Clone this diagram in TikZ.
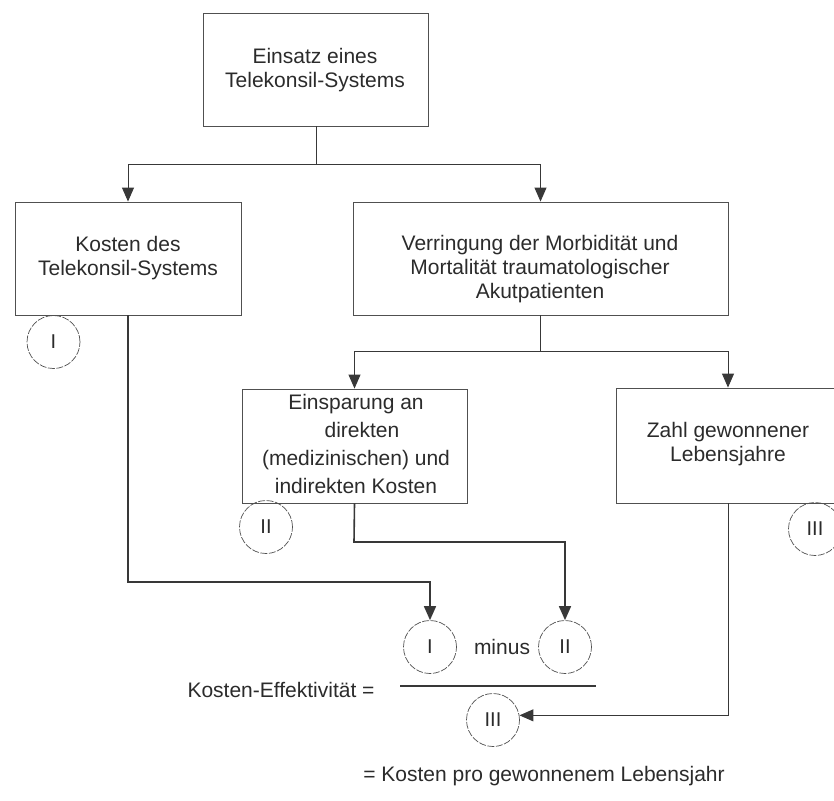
\documentclass[tikz,border=0pt]{standalone}
\usepackage{fontspec}
\setmainfont{Liberation Sans}
\usetikzlibrary{arrows.meta}
\definecolor{ink}{HTML}{2B2B2B}
\definecolor{wire}{HTML}{383838}
\definecolor{frame}{HTML}{505050}
\begin{document}
\begin{tikzpicture}[x=1pt,y=-1pt,
  box/.style={draw=frame,line width=0.9pt,rectangle,inner sep=0pt},
  lbl/.style={text=ink,font=\fontsize{21}{24}\selectfont,align=center,inner sep=0pt},
  num/.style={circle,draw=frame,line width=0.7pt,dash pattern=on 7pt off 1.5pt,
              minimum size=53pt,inner sep=0pt,text=ink,font=\fontsize{20}{24}\selectfont},
  conn/.style={draw=wire,line width=1pt},
  heavy/.style={line width=1.6pt},
  arr/.style={conn,-{Triangle[width=12pt,length=14pt]}}
]
\useasboundingbox (0,0) rectangle (834,800);

% boxes
\node[box,minimum width=225pt,minimum height=113pt] (top) at (315.5,69.5) {};
\node[lbl] (topT) at (315,70) {Einsatz eines\\Telekonsil-Systems};

\node[box,minimum width=226pt,minimum height=113pt] (kosten) at (128,258.5) {};
\node[lbl] (kostenT) at (128,258) {Kosten des\\Telekonsil-Systems};

\node[box,minimum width=375pt,minimum height=113pt] (verr) at (540.5,258.5) {};
\node[lbl] (verrT) at (540,269) {Verringung der Morbidität und\\Mortalität traumatologischer\\Akutpatienten};

\node[box,minimum width=225pt,minimum height=114pt] (einsp) at (354.5,446) {};
\node[lbl,font=\fontsize{21}{28}\selectfont] (einspT) at (356,444)
  {Einsparung an\\\hspace*{12pt}direkten\\(medizinischen) und\\indirekten Kosten};

\node[box,minimum width=224pt,minimum height=115pt] (zahl) at (728,445.5) {};
\node[lbl] (zahlT) at (728,444) {Zahl gewonnener\\Lebensjahre};

% numbered circles
\node[num] (cI)   at (53.5,342) {I};
\node[num] (cII)  at (266,527)  {II};
\node[num] (cIII) at (815,529)  {III};
\node[num] (bI)   at (430,647)  {I};
\node[num] (bII)  at (565,647)  {II};
\node[num] (bIII) at (493,720)  {III};

% formula texts
\node[lbl] (minus) at (502,647) {minus};
\node[lbl] (ke) at (281,690) {Kosten-Effektivität =};
\node[lbl] (res) at (544,776) {= Kosten pro gewonnenem Lebensjahr};
\coordinate (fracL) at (400,686);
\coordinate (fracR) at (596,686);
\draw[conn,heavy] (fracL) -- (fracR);

% connectors
\coordinate (j1) at (316,164);
\coordinate (j2) at (540,351);
\draw[conn] (top.south -| j1) -- (j1);
\draw[arr] (j1) -| (kosten.north);
\draw[arr] (j1) -| (verr.north);

\draw[conn] (verr.south -| j2) -- (j2);
\draw[arr] (j2) -| (einsp.north);
\draw[arr] (j2) -| (zahl.north);

\coordinate (k1) at (128,582);
\draw[arr,heavy] (kosten.south) -- (k1) -| (bI.north);

\coordinate (e1) at (354,542);
\draw[arr,heavy] (einsp.south) -- (e1) -| (bII.north);

\draw[arr] (zahl.south) |- (bIII.10);
\end{tikzpicture}
\end{document}
